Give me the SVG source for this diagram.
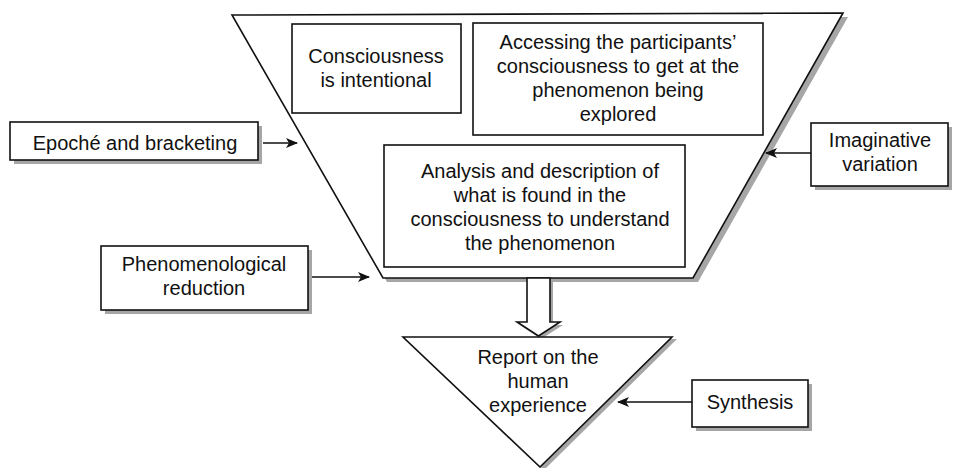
<svg xmlns="http://www.w3.org/2000/svg" width="958" height="468" viewBox="0 0 958 468">
<style>
text{font-family:"Liberation Sans",Arial,sans-serif;font-size:20px;fill:#111;text-anchor:middle}
.box{fill:#fff;stroke:#111;stroke-width:1.6}
.sh{fill:#a6a6a6;stroke:none}
.ln{stroke:#111;stroke-width:1.6;fill:none}
</style>
<defs>
<marker id="ah" markerWidth="12" markerHeight="10" refX="11" refY="5" orient="auto" markerUnits="userSpaceOnUse">
<path d="M0,0 L12,5 L0,10 L3,5 Z" fill="#111"/>
</marker>
</defs>
<g id="funnel">
<polygon class="sh" points="236,19 848,17 698,282 387,282"/>
<polygon class="box" points="232,15 843,13 693,278 383,278"/>
</g>
<g id="conscious-intentional">
<rect class="box" x="292" y="24" width="169" height="89"/>
<text x="376" y="63">Consciousness</text>
<text x="376" y="87">is intentional</text>
</g>
<g id="accessing">
<rect class="box" x="473" y="23" width="290" height="112"/>
<text x="618" y="49">Accessing the participants’</text>
<text x="618" y="73">consciousness to get at the</text>
<text x="618" y="97">phenomenon being</text>
<text x="618" y="121">explored</text>
</g>
<g id="analysis">
<rect class="box" x="384" y="145" width="301" height="122"/>
<text x="540" y="178">Analysis and description of</text>
<text x="540" y="202">what is found in the</text>
<text x="540" y="226">consciousness to understand</text>
<text x="540" y="250">the phenomenon</text>
</g>
<g id="down-arrow">
<polygon class="sh" points="530,280 553,280 553,325 563,325 541,339 520,325 530,325"/>
<polygon class="box" points="527,278 550,278 550,322 560,322 538.5,336 517,322 527,322"/>
</g>
<g id="report">
<polygon class="sh" points="407,339 677,339 544,470"/>
<polygon class="box" points="403,337 672,337 540,467"/>
<text x="538" y="364">Report on the</text>
<text x="538" y="388">human</text>
<text x="538" y="412">experience</text>
</g>
<g id="epoche">
<rect class="sh" x="14" y="126" width="248" height="38"/>
<rect class="box" x="10" y="122" width="248" height="38"/>
<text x="135" y="150">Epoché and bracketing</text>
</g>
<g id="imaginative">
<rect class="sh" x="815" y="127" width="137" height="63"/>
<rect class="box" x="811" y="123" width="137" height="63"/>
<text x="880" y="147">Imaginative</text>
<text x="880" y="171">variation</text>
</g>
<g id="phenomenological">
<rect class="sh" x="105" y="250" width="207" height="64"/>
<rect class="box" x="101" y="246" width="207" height="64"/>
<text x="204" y="271">Phenomenological</text>
<text x="204" y="295">reduction</text>
</g>
<g id="synthesis">
<rect class="sh" x="696" y="384" width="116" height="47"/>
<rect class="box" x="692" y="380" width="116" height="47"/>
<text x="750" y="409">Synthesis</text>
</g>
<g id="connectors">
<line class="ln" x1="263" y1="143" x2="297" y2="143" marker-end="url(#ah)"/>
<line class="ln" x1="312" y1="277" x2="369" y2="277" marker-end="url(#ah)"/>
<line class="ln" x1="811" y1="153" x2="766" y2="153" marker-end="url(#ah)"/>
<line class="ln" x1="692" y1="402" x2="618" y2="402" marker-end="url(#ah)"/>
</g>
</svg>
